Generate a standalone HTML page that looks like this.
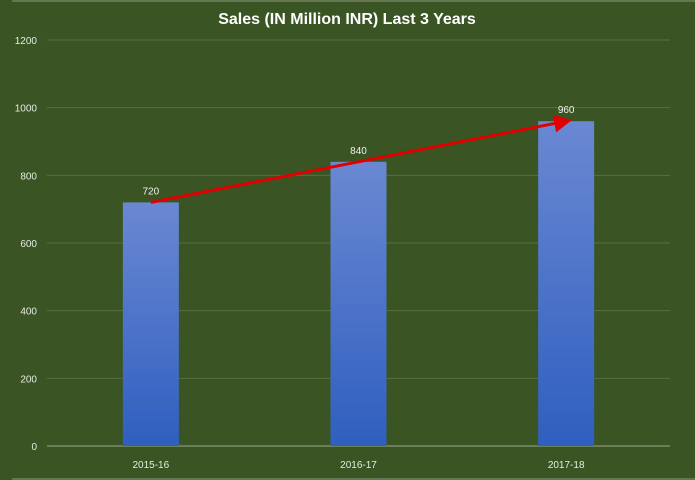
<!DOCTYPE html>
<html><head><meta charset="utf-8"><style>
body{margin:0;width:695px;height:480px;background:#3a5424;overflow:hidden}
svg{display:block;font-family:"Liberation Sans",sans-serif}
</style></head><body>
<svg id="chart" width="695" height="480" xmlns="http://www.w3.org/2000/svg">
<defs>
<linearGradient id="bg" x1="0" y1="0" x2="0" y2="1"><stop offset="0" stop-color="#6a88d2"/><stop offset="1" stop-color="#2f5fbf"/></linearGradient>
<marker id="arr" markerWidth="6" markerHeight="6" refX="4" refY="3" orient="auto"><path d="M0,0 L6,3 L0,6 z" fill="#e00000"/></marker>
</defs>
<rect x="0" y="0" width="695" height="480" fill="#3a5424"/>
<line x1="12" y1="1" x2="695" y2="1" stroke="#8a9a7a" stroke-width="1"/>
<line x1="12" y1="479" x2="695" y2="479" stroke="#8a9a7a" stroke-width="1"/>
<text x="347" y="24" text-anchor="middle" fill="#fff" font-size="16" font-weight="bold">Sales (IN Million INR) Last 3 Years</text>
<g id="grid"></g><g id="bars"></g><g id="labels"></g><g id="trend"></g>
</svg>
<script>
const categories=["2015-16","2016-17","2017-18"];
const values=[720,840,960];
const yTicks=[0,200,400,600,800,1000,1200];
const NS="http://www.w3.org/2000/svg";
const x0=47,x1=670,y0=446,yTop=40,yMax=1200;
const y=v=>y0-(v/yMax)*(y0-yTop);
const bw=(x1-x0)/categories.length;
const cx=i=>x0+bw*(i+0.5);
function mk(t,a,p){const e=document.createElementNS(NS,t);for(const k in a)e.setAttribute(k,a[k]);p.appendChild(e);return e;}
const g=document.getElementById('grid'),b=document.getElementById('bars'),l=document.getElementById('labels'),tr=document.getElementById('trend');
yTicks.forEach(v=>{
 const ln=mk('line',{x1:x0,x2:x1,y1:y(v),y2:y(v),stroke:v===0?'#9aa88a':'#56703f','stroke-width':1},g);
 
 
 const t=mk('text',{x:37,y:y(v)+4,'text-anchor':'end',fill:'#e6ece0','font-size':10},g);
 t.textContent=v;
 
 
});
const pts=[];
categories.forEach((c,i)=>{
 const r=mk('rect',{x:cx(i)-28,y:y(values[i]),width:56,height:y0-y(values[i]),fill:'url(#bg)'},b);
 
 
 const t=mk('text',{x:cx(i),y:y(values[i])-8,'text-anchor':'middle',fill:'#f0f0f0','font-size':10},l);
 t.textContent=values[i];
 
 
 const xt=mk('text',{x:cx(i),y:468,'text-anchor':'middle',fill:'#e6ece0','font-size':10},l);
 xt.textContent=c;
 
 
 pts.push(cx(i)+','+y(values[i]));
});
const pl=mk('polyline',{points:pts.join(' '),fill:'none',stroke:'#e00000','stroke-width':3,'marker-end':'url(#arr)'},tr);


</script>
</body></html>
